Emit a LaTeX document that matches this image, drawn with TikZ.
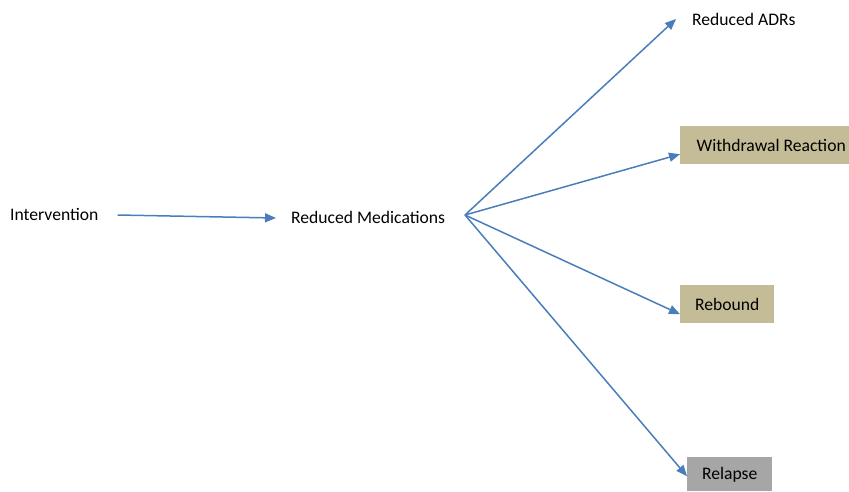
\documentclass[tikz,border=0pt]{standalone}
\usepackage{fontspec}
\setmainfont{Carlito}
\usetikzlibrary{arrows.meta}
\definecolor{arrowblue}{HTML}{4A7EBB}
\definecolor{tanbox}{HTML}{C4BC96}
\definecolor{graybox}{HTML}{A6A6A6}
\begin{document}
\begin{tikzpicture}[x=1pt,y=-1pt,
  every node/.style={font=\fontsize{17.6}{21}\selectfont, text=black},
  plain/.style={inner sep=0pt, anchor=west},
  tbox/.style={fill=tanbox, inner sep=0pt},
  gbox/.style={fill=graybox, inner sep=0pt},
  conn/.style={draw=arrowblue, line width=1.5pt, -{Triangle[length=11pt,width=9pt]}}]
\useasboundingbox (0,0) rectangle (849,491);
\node[plain] (int) at (10,214) {Intervention};
\node[plain] (med) at (291,217) {Reduced Medications};
\coordinate (fan) at (465,215);
\node[plain] (adr) at (692,19) {Reduced ADRs};
\node[tbox, minimum width=182pt, minimum height=38pt, anchor=north west] (wd) at (680,126) {Withdrawal Reaction};
\node[tbox, minimum width=94pt, minimum height=38pt, anchor=north west] (reb) at (680,285) {Rebound};
\node[gbox, minimum width=85pt, minimum height=34pt, anchor=north west, text depth=2pt] (rel) at (687,457) {Relapse};
\coordinate (adrtip) at ([xshift=-16pt]adr.west);
\coordinate (wdtip) at ([yshift=-9pt]wd.west);
\coordinate (rebtip) at ([yshift=-10pt]reb.west);
\coordinate (reltip) at ([yshift=-2pt]rel.west);
\coordinate (intend) at ([xshift=19pt,yshift=-1pt]int.east);
\coordinate (medstart) at ([xshift=-15pt,yshift=-1pt]med.west);
\draw[conn] (intend) -- (medstart);
\draw[conn] (fan) -- (adrtip);
\draw[conn] (fan) -- (wdtip);
\draw[conn] (fan) -- (rebtip);
\draw[conn] (fan) -- (reltip);
\end{tikzpicture}
\end{document}
